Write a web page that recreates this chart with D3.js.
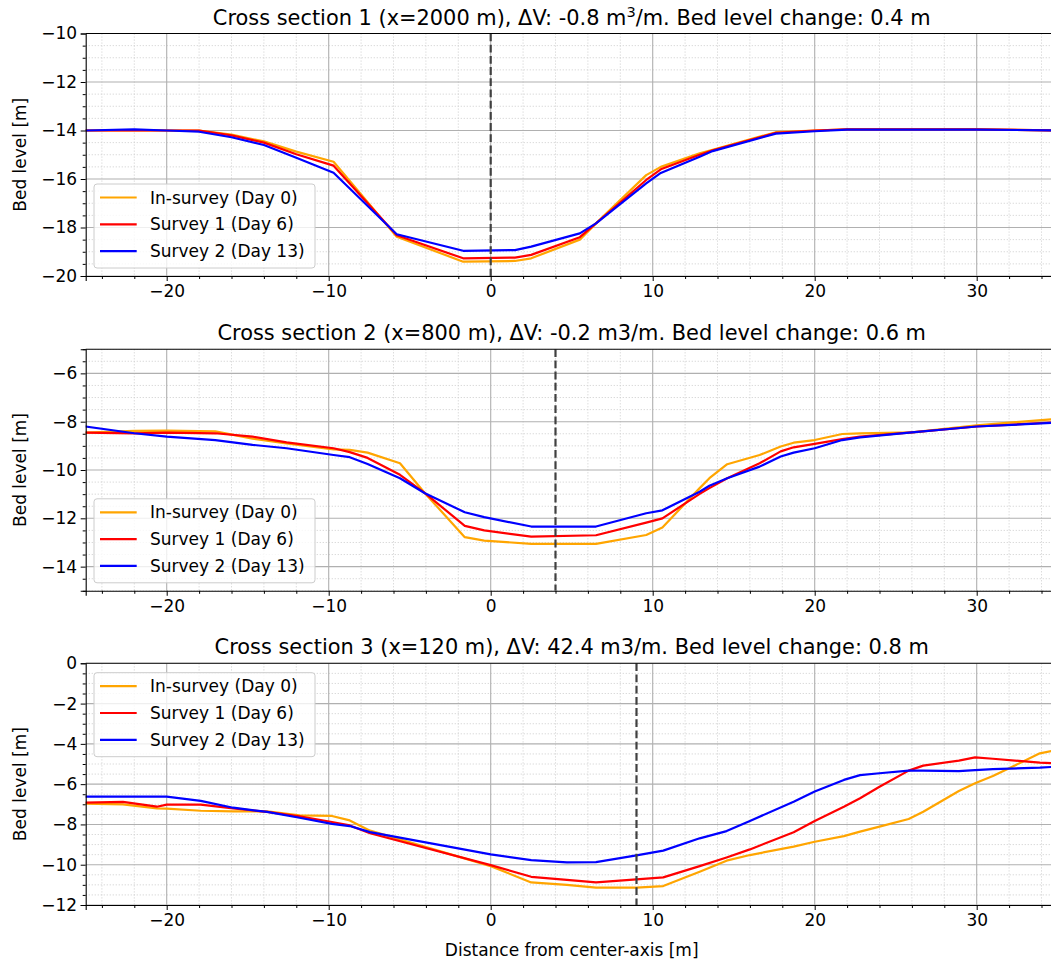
<!DOCTYPE html>
<html>
<head>
<meta charset="utf-8">
<script src="https://cdn.jsdelivr.net/npm/d3@7"></script>
<style>
  html, body { margin: 0; padding: 0; background: #ffffff; }
  svg { display: block; font-family: "DejaVu Sans", sans-serif; }
</style>
</head>
<body>
<svg id="chart" width="1051" height="965"></svg>
<script>
// ---------------- DATA ----------------
const seriesNames = ["In-survey (Day 0)", "Survey 1 (Day 6)", "Survey 2 (Day 13)"];
const seriesColors = ["#FFA500", "#FF0000", "#0000FF"];
const xTickValues = [-20, -10, 0, 10, 20, 30];

// Cross section 1 (x=2000 m)
const cs1Distance = [-25, -22, -20, -18, -16, -14, -12, -9.7, -5.8, -1.7, 1.5, 2.5, 5.5, 6.5, 9.6, 10.5, 12.9, 13.7, 17.6, 20, 22, 26, 30, 35];
const cs1Day0  = [-14.0, -14.0, -14.0, -14.0, -14.17, -14.45, -14.87, -15.29, -18.38, -19.41, -19.38, -19.27, -18.5, -17.83, -15.84, -15.5, -14.94, -14.8, -14.07, -14.0, -13.95, -13.95, -13.95, -14.0];
const cs1Day6  = [-14.0, -14.0, -14.0, -14.0, -14.2, -14.5, -14.98, -15.45, -18.32, -19.27, -19.24, -19.13, -18.4, -17.83, -16.04, -15.6, -15.0, -14.82, -14.1, -14.0, -13.95, -13.95, -13.95, -14.0];
const cs1Day13 = [-14.0, -13.95, -14.0, -14.05, -14.28, -14.6, -15.12, -15.74, -18.28, -18.96, -18.93, -18.79, -18.24, -17.83, -16.18, -15.75, -15.08, -14.85, -14.13, -14.03, -13.96, -13.96, -13.96, -14.0];
const cs1Axis = 0;
const cs1YTicks = [-20, -18, -16, -14, -12, -10];

// Cross section 2 (x=800 m)
const cs2Distance = [-25, -22, -20, -17, -14.7, -12.6, -9.7, -8.7, -7.6, -5.6, -4.06, -1.6, -0.4, 2.5, 6.5, 9.6, 10.6, 12.9, 13.5, 14.6, 16.6, 17.9, 18.7, 20, 21.7, 22.8, 26, 30, 35];
const cs2Day0  = [-8.45, -8.38, -8.37, -8.4, -8.7, -8.9, -9.15, -9.17, -9.28, -9.72, -10.96, -12.78, -12.92, -13.06, -13.06, -12.69, -12.38, -10.75, -10.34, -9.76, -9.38, -9.03, -8.87, -8.76, -8.51, -8.48, -8.44, -8.15, -7.88];
const cs2Day6  = [-8.45, -8.48, -8.45, -8.48, -8.62, -8.86, -9.1, -9.26, -9.5, -10.2, -10.96, -12.31, -12.5, -12.76, -12.7, -12.18, -12.0, -10.99, -10.75, -10.34, -9.72, -9.23, -9.06, -8.92, -8.72, -8.62, -8.44, -8.2, -8.02];
const cs2Day13 = [-8.2, -8.48, -8.62, -8.76, -8.96, -9.1, -9.38, -9.47, -9.75, -10.34, -10.96, -11.75, -11.95, -12.34, -12.34, -11.79, -11.67, -10.9, -10.65, -10.34, -9.86, -9.44, -9.28, -9.1, -8.76, -8.65, -8.44, -8.2, -8.04];
const cs2Axis = 4;
const cs2YTicks = [-14, -12, -10, -8, -6];

// Cross section 3 (x=120 m)
const cs3Distance = [-25, -22.7, -20.6, -20, -17.9, -15.9, -13.8, -11.8, -9.8, -8.7, -7.45, 0, 2.5, 4.7, 6.5, 9, 10.65, 12.9, 14.56, 16, 18.7, 20, 21.8, 22.8, 24, 25.8, 26.7, 28.9, 29.9, 31, 33.9, 35];
const cs3Day0  = [-6.97, -7.0, -7.2, -7.22, -7.32, -7.35, -7.35, -7.55, -7.58, -7.8, -8.31, -10.07, -10.88, -11.0, -11.14, -11.14, -11.06, -10.35, -9.8, -9.52, -9.1, -8.86, -8.58, -8.36, -8.11, -7.73, -7.37, -6.34, -5.96, -5.6, -4.47, -4.3];
const cs3Day6  = [-6.92, -6.88, -7.12, -7.02, -7.02, -7.2, -7.38, -7.6, -7.88, -8.05, -8.44, -10.02, -10.6, -10.75, -10.88, -10.73, -10.63, -10.07, -9.64, -9.24, -8.39, -7.83, -7.12, -6.7, -6.13, -5.33, -5.08, -4.83, -4.67, -4.74, -4.93, -4.97];
const cs3Day13 = [-6.62, -6.62, -6.62, -6.62, -6.83, -7.17, -7.38, -7.67, -7.97, -8.08, -8.38, -9.49, -9.77, -9.88, -9.87, -9.54, -9.3, -8.69, -8.33, -7.83, -6.87, -6.37, -5.79, -5.55, -5.46, -5.33, -5.33, -5.35, -5.3, -5.25, -5.18, -5.13];
const cs3Axis = 9;
const cs3YTicks = [-12, -10, -8, -6, -4, -2, 0];

// ---------------- LAYOUT ----------------
const svg = d3.select("#chart");
const plotLeft = 85.7, plotRight = 1057.7;
const x = d3.scaleLinear().domain([-25, 35]).range([plotLeft, plotRight]);
const fs = 17, titleFs = 20.9;

const panels = [
  { top: 33.5, bottom: 276, yDomain: [-20, -10], yTicks: cs1YTicks, xs: cs1Distance,
    series: [cs1Day0, cs1Day6, cs1Day13], axisX: cs1Axis, legend: "lower",
    title: ["Cross section 1 (x=2000 m), ΔV: -0.8 m", "3", "/m. Bed level change: 0.4 m"] },
  { top: 349.2, bottom: 590.8, yDomain: [-15, -5], yTicks: cs2YTicks, xs: cs2Distance,
    series: [cs2Day0, cs2Day6, cs2Day13], axisX: cs2Axis, legend: "lower",
    title: ["Cross section 2 (x=800 m), ΔV: -0.2 m3/m. Bed level change: 0.6 m"] },
  { top: 663.3, bottom: 905, yDomain: [-12, 0], yTicks: cs3YTicks, xs: cs3Distance,
    series: [cs3Day0, cs3Day6, cs3Day13], axisX: cs3Axis, legend: "upper",
    title: ["Cross section 3 (x=120 m), ΔV: 42.4 m3/m. Bed level change: 0.8 m"] }
];

const fmt = d3.format("d");

panels.forEach((p, pi) => {
  const y = d3.scaleLinear().domain(p.yDomain).range([p.bottom, p.top]);
  const g = svg.append("g");
  const clipId = "clip" + pi;
  svg.append("clipPath").attr("id", clipId).append("rect")
    .attr("x", plotLeft).attr("y", p.top).attr("width", plotRight - plotLeft).attr("height", p.bottom - p.top);

  // minor grid
  const xMinor = d3.range(-24, 35, 2).filter(v => v % 10 !== 0);
  const yMinor = d3.range(p.yDomain[0], p.yDomain[1] + 0.01, 0.5).filter(v => Math.abs(v % 2) > 0.01);
  const grid = g.append("g").attr("clip-path", `url(#${clipId})`);
  grid.selectAll(".xm").data(xMinor).join("line")
    .attr("x1", d => x(d)).attr("x2", d => x(d)).attr("y1", p.top).attr("y2", p.bottom)
    .attr("stroke", "#d0d0d0").attr("stroke-width", 0.9).attr("stroke-dasharray", "1.2,1.8");
  grid.selectAll(".ym").data(yMinor).join("line")
    .attr("x1", plotLeft).attr("x2", plotRight).attr("y1", d => y(d)).attr("y2", d => y(d))
    .attr("stroke", "#d0d0d0").attr("stroke-width", 0.9).attr("stroke-dasharray", "1.2,1.8");
  // major grid
  grid.selectAll(".xM").data(xTickValues).join("line")
    .attr("x1", d => x(d)).attr("x2", d => x(d)).attr("y1", p.top).attr("y2", p.bottom)
    .attr("stroke", "#b0b0b0").attr("stroke-width", 1.1);
  grid.selectAll(".yM").data(p.yTicks).join("line")
    .attr("x1", plotLeft).attr("x2", plotRight).attr("y1", d => y(d)).attr("y2", d => y(d))
    .attr("stroke", "#b0b0b0").attr("stroke-width", 1.1);

  // data lines
  const line = d3.line().x(d => x(d[0])).y(d => y(d[1]));
  const lines = g.append("g").attr("clip-path", `url(#${clipId})`);
  p.series.forEach((vals, si) => {
    const pts = p.xs.map((xv, i) => [xv, vals[i]]);
    lines.append("path").datum(pts).attr("d", line)
      .attr("fill", "none").attr("stroke", seriesColors[si]).attr("stroke-width", 2.2)
      .attr("stroke-linejoin", "round").attr("stroke-linecap", "square");
  });

  // center axis dashed line
  lines.append("line")
    .attr("x1", x(p.axisX)).attr("x2", x(p.axisX)).attr("y1", p.top).attr("y2", p.bottom)
    .attr("stroke", "#404040").attr("stroke-width", 2.2).attr("stroke-dasharray", "7.8,3.4");

  // axes
  const xAxis = d3.axisBottom(x).tickValues(xTickValues).tickFormat(fmt).tickSize(5).tickPadding(4);
  const xg = g.append("g").attr("transform", `translate(0,${p.bottom})`).call(xAxis);
  const xMinorAxis = d3.axisBottom(x).tickValues(xMinor).tickFormat("").tickSize(3);
  g.append("g").attr("transform", `translate(0,${p.bottom})`).call(xMinorAxis).select(".domain").remove();

  const yAxis = d3.axisLeft(y).tickValues(p.yTicks).tickFormat(fmt).tickSize(5).tickPadding(3.5);
  const yg = g.append("g").attr("transform", `translate(${plotLeft},0)`).call(yAxis);
  const yMinorAxis = d3.axisLeft(y).tickValues(yMinor).tickFormat("").tickSize(3);
  g.append("g").attr("transform", `translate(${plotLeft},0)`).call(yMinorAxis).select(".domain").remove();

  g.selectAll(".tick text").attr("font-size", fs).attr("fill", "#000").attr("font-family", "DejaVu Sans");
  g.selectAll(".tick line").attr("stroke", "#000").attr("stroke-width", 1);
  xg.select(".domain").attr("stroke", "#000").attr("stroke-width", 1.1);
  yg.select(".domain").attr("stroke", "#000").attr("stroke-width", 1.1);
  // top / right spines
  g.append("line").attr("x1", plotLeft).attr("x2", plotRight).attr("y1", p.top).attr("y2", p.top)
    .attr("stroke", "#000").attr("stroke-width", 1.1);
  g.append("line").attr("x1", plotRight).attr("x2", plotRight).attr("y1", p.top).attr("y2", p.bottom)
    .attr("stroke", "#000").attr("stroke-width", 1.1);

  // y label
  g.append("text").attr("transform", `translate(20,${(p.top + p.bottom) / 2}) rotate(-90)`)
    .attr("text-anchor", "middle").attr("dominant-baseline", "central")
    .attr("font-size", fs).text("Bed level [m]");

  // title
  const t = g.append("text").attr("x", (plotLeft + plotRight) / 2).attr("y", p.top - 9)
    .attr("text-anchor", "middle").attr("font-size", titleFs);
  if (p.title.length === 3) {
    t.append("tspan").text(p.title[0]);
    t.append("tspan").attr("dy", -8).attr("font-size", 14.6).text(p.title[1]);
    t.append("tspan").attr("dy", 8).text(p.title[2]);
  } else {
    t.text(p.title[0]);
  }

  // legend
  const lw = 221, lh = 84;
  const lx = plotLeft + 8.3;
  const ly = p.legend === "lower" ? p.bottom - 8 - lh : p.top + 9.4;
  const lg = g.append("g").attr("transform", `translate(${lx},${ly})`);
  lg.append("rect").attr("width", lw).attr("height", lh).attr("rx", 3)
    .attr("fill", "#ffffff").attr("fill-opacity", 0.8).attr("stroke", "#cccccc").attr("stroke-width", 1);
  seriesNames.forEach((name, si) => {
    const cy = 13.5 + si * 26.8;
    lg.append("line").attr("x1", 6).attr("x2", 42.7).attr("y1", cy).attr("y2", cy)
      .attr("stroke", seriesColors[si]).attr("stroke-width", 2.2);
    lg.append("text").attr("x", 56).attr("y", cy).attr("dominant-baseline", "central")
      .attr("font-size", fs).text(name);
  });
});

// x label
svg.append("text").attr("x", (plotLeft + plotRight) / 2).attr("y", 950)
  .attr("text-anchor", "middle").attr("dominant-baseline", "central")
  .attr("font-size", fs).text("Distance from center-axis [m]");
</script>
</body>
</html>
